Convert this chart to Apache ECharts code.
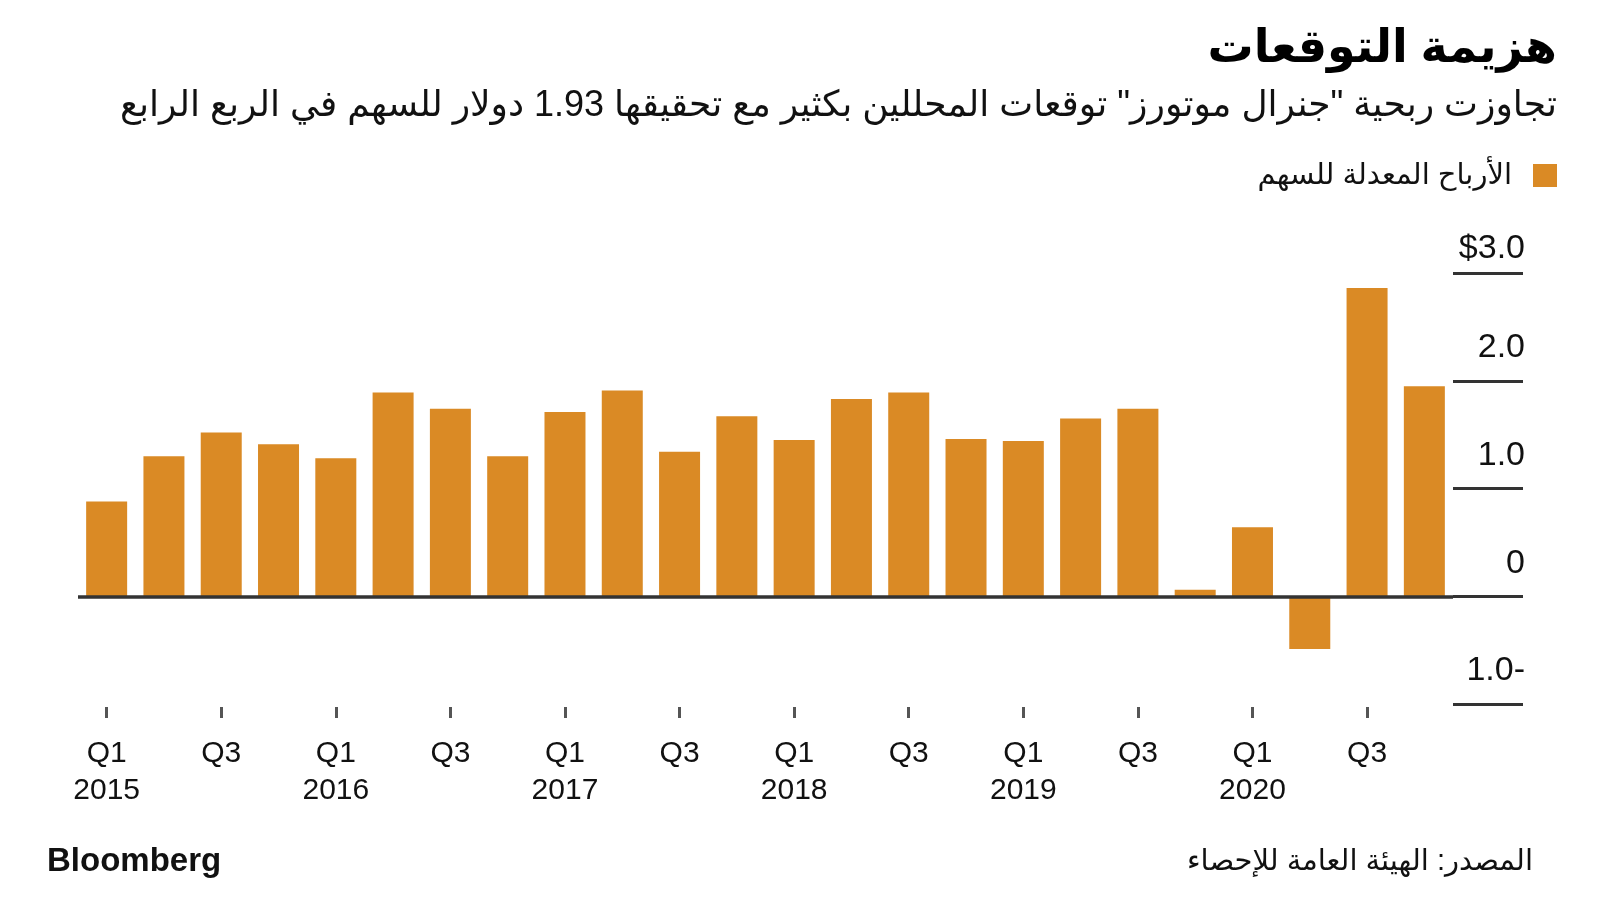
<!DOCTYPE html>
<html><head><meta charset="utf-8">
<script src="https://cdn.jsdelivr.net/npm/echarts@6/dist/echarts.min.js"></script>
<style>html,body{margin:0;padding:0;background:#fff}#c{width:1600px;height:900px}</style>
</head><body><div id="c" dir="rtl"></div>
<script>
const categories = [
  'Q1\n2015','Q2','Q3','Q4',
  'Q1\n2016','Q2','Q3','Q4',
  'Q1\n2017','Q2','Q3','Q4',
  'Q1\n2018','Q2','Q3','Q4',
  'Q1\n2019','Q2','Q3','Q4',
  'Q1\n2020','Q2','Q3','Q4'
];
const adjustedEps = [
  0.88, 1.30, 1.52, 1.41,
  1.28, 1.89, 1.74, 1.30,
  1.71, 1.91, 1.34, 1.67,
  1.45, 1.83, 1.89, 1.46,
  1.44, 1.65, 1.74, 0.06,
  0.64, -0.49, 2.86, 1.95
];
const yTickValues = [-1, 0, 1, 2, 3];
const yTickLabels = ['-1.0', '0', '1.0', '2.0', '$3.0'];
const seriesName = 'الأرباح المعدلة للسهم';
const titleText = 'هزيمة التوقعات';
const subtitleText = 'تجاوزت ربحية "جنرال موتورز" توقعات المحللين بكثير مع تحقيقها 1.93 دولار للسهم في الربع الرابع';
const sourceText = 'المصدر: الهيئة العامة للإحصاء';
const brandText = 'Bloomberg';

const FONT = "'Liberation Sans', 'DejaVu Sans', sans-serif";
const ORANGE = '#DA8A25';

const chart = echarts.init(document.getElementById('c'), null, {renderer: 'canvas'});
chart.setOption({
  animation: false,
  backgroundColor: '#fff',
  textStyle: {fontFamily: FONT},
  title: [
    {text: titleText, right: 43, top: 26, padding: 0,
     textStyle: {fontSize: 46, fontWeight: 'bold', color: '#000', fontFamily: FONT}},
    {text: subtitleText, right: 43, top: 88, padding: 0,
     textStyle: {fontSize: 36, fontWeight: 'normal', color: '#111', fontFamily: FONT}},
    {text: brandText, left: 47, top: 845, padding: 0,
     textStyle: {fontSize: 33, fontWeight: 'bold', color: '#111', fontFamily: FONT}},
    {text: sourceText, right: 67, top: 847, padding: 0,
     textStyle: {fontSize: 29, fontWeight: 'normal', color: '#111', fontFamily: FONT}}
  ],
  legend: {
    data: [seriesName], right: 43, top: 161, padding: 0, align: 'right',
    icon: 'rect', itemWidth: 24, itemHeight: 23, selectedMode: false,
    textStyle: {fontSize: 29, color: '#111', fontFamily: FONT, padding: [4, 16, 0, 0]}
  },
  grid: {left: 78, right: 147, top: 273, bottom: 196, containLabel: false},
  xAxis: {
    type: 'category', data: categories, position: 'bottom', offset: 3,
    axisLine: {show: false, onZero: false},
    axisTick: {show: true, interval: 1, alignWithLabel: true, length: 11,
               lineStyle: {color: '#555', width: 3}},
    axisLabel: {interval: 1, margin: 28, fontSize: 30, lineHeight: 37, color: '#111', fontFamily: FONT}
  },
  yAxis: {
    type: 'value', position: 'right', min: -1, max: 3, interval: 1,
    splitLine: {show: false}, axisLine: {show: false},
    axisTick: {show: true, length: 70, lineStyle: {color: '#333', width: 3}},
    axisLabel: {
      align: 'right', margin: 72, verticalAlign: 'bottom',
      formatter: function (v) {
        const i = yTickValues.indexOf(v);
        const s = i >= 0 ? yTickLabels[i] : String(v);
        return v === 3 ? '{top|' + s + '}' : '{n|' + s + '}';
      },
      rich: {
        n: {fontSize: 34, color: '#111', fontFamily: FONT, lineHeight: 66},
        top: {fontSize: 34, color: '#111', fontFamily: FONT, lineHeight: 48}
      }
    }
  },
  series: [{
    name: seriesName, type: 'bar', data: adjustedEps, barWidth: 41,
    itemStyle: {color: ORANGE},
    markLine: {
      silent: true, symbol: 'none', label: {show: false},
      lineStyle: {color: '#333', width: 3.5, type: 'solid'},
      data: [{yAxis: 0}]
    }
  }]
});
</script></body></html>
